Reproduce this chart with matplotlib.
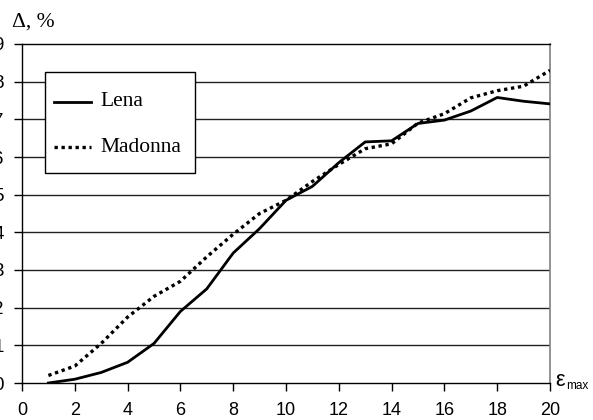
import matplotlib
matplotlib.use("Agg")
import matplotlib.pyplot as plt
from matplotlib.patches import Rectangle
from matplotlib.lines import Line2D

x = list(range(1, 21))
lena = [0.0, 0.1, 0.28, 0.55, 1.05, 1.9, 2.5, 3.45, 4.1, 4.85,
        5.22, 5.85, 6.4, 6.43, 6.89, 6.98, 7.22, 7.58, 7.48, 7.41]
madonna = [0.2, 0.45, 1.05, 1.75, 2.3, 2.7, 3.35, 3.95, 4.5, 4.85,
           5.35, 5.8, 6.22, 6.35, 6.9, 7.15, 7.57, 7.76, 7.88, 8.3]
series_names = ["Lena", "Madonna"]
xticks = list(range(0, 21, 2))
yticks = list(range(0, 10))

W, H = 593, 420
fig = plt.figure(figsize=(W / 100, H / 100), dpi=100)
L, R, T, B = 22, 550, 44, 383
ax = fig.add_axes([L / W, 1 - B / H, (R - L) / W, (B - T) / H])

ax.set_xlim(0, 20)
ax.set_ylim(0, 9)
for yv in yticks[1:-1]:
    ax.axhline(yv, color="#222222", lw=1.0, zorder=1)

styles = [dict(color="black", lw=2.0, linestyle="-"),
          dict(color="black", lw=2.4, linestyle=(0, (1, 1.1)))]
ax.plot(x, lena, zorder=3, **styles[0])
ax.plot(x, madonna, zorder=3, **styles[1])

ax.set_xticks(xticks)
ax.set_yticks(yticks)
ax.tick_params(axis="x", direction="out", length=6, width=1, pad=8,
               labelsize=13, labelfontfamily="Liberation Sans")
ax.tick_params(axis="y", direction="out", length=6, width=1, pad=7,
               labelsize=13.5, labelfontfamily="Liberation Sans")
for s in ["left", "top", "bottom"]:
    ax.spines[s].set_color("black")
    ax.spines[s].set_linewidth(1.0)
ax.spines["right"].set_color("#808080")
ax.spines["right"].set_linewidth(1.2)

def fx(px):
    return px / W

def fy(py):
    return 1 - py / H

fig.add_artist(Rectangle((fx(45), fy(173)), fx(195) - fx(45), fy(72) - fy(173),
                         transform=fig.transFigure, facecolor="white",
                         edgecolor="black", lw=1.0, zorder=5))
for name, st, yy in zip(series_names, styles, [102, 147]):
    fig.add_artist(Line2D([fx(54), fx(91)], [fy(yy), fy(yy)],
                          transform=fig.transFigure, zorder=6, **st))
    fig.text(fx(100), fy(yy), name, family="Liberation Serif", fontsize=15.5,
             va="center", ha="left", zorder=6)

fig.text(12 / W, 1 - 22 / H, "Δ, %", family="Liberation Serif", fontsize=15.5,
         va="center", ha="left")
fig.text(555 / W, 1 - 380 / H, "ε", family="Liberation Sans", fontsize=15.5,
         va="center", ha="left")
fig.text(566 / W, 1 - 386 / H, "max", family="Liberation Sans", fontsize=8.5,
         va="center", ha="left")

fig.savefig("out.png", dpi=100)
